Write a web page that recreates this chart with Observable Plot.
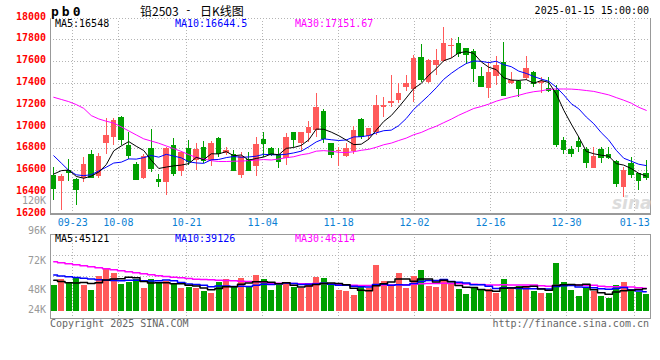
<!DOCTYPE html>
<html><head><meta charset="utf-8">
<script src="https://cdn.jsdelivr.net/npm/d3@7"></script>
<script src="https://cdn.jsdelivr.net/npm/@observablehq/plot@0.6"></script>
<style>
body{margin:0;background:#fff;}
#chart{position:relative;width:660px;height:360px;overflow:hidden;font-family:"DejaVu Sans Mono",monospace;background:#fff;}
#chart svg{position:absolute;left:0;background:transparent;}
.t{position:absolute;white-space:pre;font-size:10px;line-height:10px;font-family:"DejaVu Sans Mono",monospace;}
</style></head><body><div id="chart"></div>
<script>
const dates = ["09-18","09-19","09-20","09-23","09-24","09-25","09-26","09-27","09-30","10-08","10-09","10-10","10-11","10-14","10-15","10-16","10-17","10-18","10-21","10-22","10-23","10-24","10-25","10-28","10-29","10-30","10-31","11-01","11-04","11-05","11-06","11-07","11-08","11-11","11-12","11-13","11-14","11-15","11-18","11-19","11-20","11-21","11-22","11-25","11-26","11-27","11-28","11-29","12-02","12-03","12-04","12-05","12-06","12-09","12-10","12-11","12-12","12-13","12-16","12-17","12-18","12-19","12-20","12-23","12-24","12-25","12-26","12-27","12-30","12-31","01-02","01-03","01-06","01-07","01-08","01-09","01-10","01-13","01-14","01-15"];
const tickDates = ["09-23","10-08","10-21","11-04","11-18","12-02","12-16","12-30","01-13"];
const priceTicks = [16200,16400,16600,16800,17000,17200,17400,17600,17800,18000];

const open = [16552,16500,16604,16515,16522,16745,16546,16843,16899,17082,16828,16659,16522,16797,16515,16491,16828,16592,16803,16690,16813,16690,16895,16760,16745,16552,16705,16635,16883,16806,16751,16712,16944,16843,16935,16966,17144,16849,16770,16727,16776,17064,16911,16951,17180,17217,17242,17364,17340,17640,17410,17564,17603,17738,17769,17717,17692,17462,17349,17462,17594,17401,17416,17441,17502,17395,17355,17334,16874,16791,16865,16791,16614,16791,16751,16681,16439,16660,16574,16568];
const high = [16629,16567,16705,16525,16721,16782,16758,17073,17079,17095,16951,16675,16745,16975,16567,16813,16895,16770,16874,16843,16865,16865,16904,16810,16782,16767,16767,16905,16944,16813,16797,16941,16944,16944,17052,17303,17156,16849,16813,16843,17003,17073,16981,17288,17272,17472,17395,17472,17656,17757,17616,17708,17916,17809,17824,17717,17708,17548,17594,17646,17778,17502,17426,17646,17511,17456,17456,17380,16904,16819,16905,16813,16813,16813,16813,16690,16629,16721,16574,16690];
const low = [16322,16230,16500,16276,16491,16522,16528,16751,16828,16828,16705,16506,16515,16583,16445,16368,16543,16546,16644,16598,16660,16635,16721,16740,16598,16528,16598,16546,16715,16727,16614,16644,16807,16776,16858,16905,16849,16712,16635,16715,16745,16880,16874,16920,17082,17180,17211,17325,17226,17410,17395,17472,17594,17625,17640,17573,17410,17364,17257,17380,17279,17389,17272,17426,17358,17303,17318,16813,16751,16721,16767,16614,16614,16660,16705,16445,16353,16522,16414,16512];
const close = [16436,16543,16583,16423,16653,16537,16730,16920,17058,16880,16736,16515,16727,16614,16500,16797,16574,16761,16681,16788,16690,16843,16758,16785,16598,16727,16604,16837,16849,16745,16684,16899,16880,16944,16997,17180,16889,16751,16780,16797,16966,16911,16981,17196,17196,17236,17303,17401,17625,17432,17610,17610,17763,17747,17671,17662,17533,17370,17502,17564,17288,17426,17355,17539,17395,17416,17334,16834,16788,16758,16819,16675,16727,16721,16715,16476,16604,16567,16506,16537];

const ma5 = [16567,16598,16604,16545,16528,16548,16585,16653,16780,16825,16865,16822,16783,16694,16618,16631,16642,16649,16663,16720,16699,16753,16752,16773,16735,16742,16694,16710,16723,16752,16744,16803,16811,16830,16881,16980,16978,16952,16919,16879,16837,16841,16887,16970,17050,17104,17182,17266,17352,17399,17474,17536,17608,17632,17680,17691,17675,17597,17548,17526,17451,17430,17427,17434,17401,17426,17408,17304,17153,17026,16907,16775,16753,16740,16731,16663,16649,16617,16574,16548];
const ma10 = [16735,16668,16600,16560,16552,16561,16595,16630,16668,16676,16706,16704,16718,16737,16722,16748,16732,16716,16679,16669,16665,16698,16701,16718,16728,16721,16724,16731,16748,16744,16743,16749,16761,16777,16817,16862,16890,16882,16875,16880,16908,16910,16920,16945,16965,16970,17012,17077,17161,17225,17289,17359,17437,17492,17540,17582,17605,17602,17590,17603,17571,17553,17512,17491,17463,17439,17419,17365,17294,17213,17166,17091,17029,16947,16879,16785,16712,16685,16657,16644.5];
const ma30 = [17272,17252,17232,17205,17170,17104,17073,17052,17035,17000,16963,16926,16890,16870,16850,16825,16800,16775,16745,16720,16705,16690,16682,16682,16685,16686,16690,16695,16700,16696,16705,16717,16726,16744,16755,16777,16782,16776,16767,16764,16772,16785,16794,16813,16836,16851,16875,16897,16928,16949,16980,17006,17039,17071,17107,17138,17169,17187,17209,17236,17256,17274,17290,17309,17323,17331,17345,17348,17348,17347,17342,17334,17326,17310,17294,17269,17245,17218,17180,17151.67];

const volume = [51400,63400,54700,66700,51400,41400,69400,83400,76000,53400,58000,62700,46000,62700,54700,59400,52700,46000,46700,46000,40000,36000,58000,63400,46700,66000,46700,71400,63400,41400,51400,56700,46700,44700,52700,66700,66000,51400,41400,39400,31400,46700,44700,91400,59400,49400,76000,46000,69400,81400,49400,46700,62700,54700,43400,32700,44700,42700,42700,36000,63400,46700,49400,49400,39400,36000,36000,96000,58000,41400,30000,44700,39400,30000,26000,51400,58000,43400,38000,33400];
const vma5 = [62000,59500,57000,56500,57520,55520,56720,62460,64320,64720,68040,66700,59220,56560,56820,57100,55100,55100,51900,50160,46280,42940,45340,48680,48820,54020,56160,58840,58840,57780,54860,56860,51920,48180,50440,53500,55360,56300,55640,52980,45920,42060,40720,50720,54720,58320,64180,64440,60040,64440,64440,58580,61920,58980,51380,48040,47640,43640,41240,39760,45900,46300,47640,48980,49660,44180,42040,51360,53080,53480,52280,54020,42700,37100,34020,38300,40960,41760,43360,45121];
const vma10 = [72500,70500,69000,67500,66000,64500,63000,62000,61500,61120,61780,61710,60840,60440,60770,62570,60900,57160,54230,53490,51690,49020,50220,50290,49490,50150,49550,52090,53760,53300,54440,56510,55380,53510,54110,54180,56110,54110,51910,51710,49710,48710,48510,53180,53850,52120,53120,52580,55380,59580,61380,61380,63180,59510,57910,56240,53110,52780,50110,45570,46970,46970,45640,45110,44710,45040,44170,49500,51030,51570,48230,48030,47030,45090,43750,45290,47490,42230,40230,39126];
const vma30 = [98800,96800,94700,92700,90700,88700,86700,84700,82700,80700,78700,76700,74700,72700,70700,69400,68000,66700,65400,64000,63400,62700,62000,61400,60700,60000,59400,58700,58000,55973,55973,55750,55483,54750,54793,55637,55523,54457,53303,52837,51950,51417,51373,52330,52487,52153,52930,52930,53687,54867,55180,55537,55693,55403,55293,54183,54117,53160,52470,52290,52690,52357,52447,52603,52160,51137,50137,51623,52177,52243,52197,52130,51953,49907,48793,48860,48260,48173,47127,46114];
const volLabels = ["120K","96K","72K","48K","24K"];

const RED = "#ff5a5a", GREEN = "#00a000", GRID = "#b4b4b4", BORDER = "#999";
const MONO = "DejaVu Sans Mono";

const candles = dates.map((d, i) => ({date: d, open: open[i], high: high[i], low: low[i], close: close[i], vol: volume[i], color: close[i] >= open[i] ? RED : GREEN}));
const series = (arr) => dates.map((d, i) => ({date: d, v: arr[i]}));

const CH = document.getElementById("chart");
function put(svg, top) { svg.style.top = top + "px"; CH.appendChild(svg); }
function txt(s, x, yc, opt = {}) {
  const e = document.createElement("div");
  e.className = "t";
  e.textContent = s;
  Object.assign(e.style, opt);
  if (opt.right) { e.style.right = (660 - x) + "px"; } else { e.style.left = x + "px"; }
  e.style.top = (yc - 5) + "px";
  CH.appendChild(e);
  return e;
}

// ---------- price panel: grid & frame (point scale for date gridlines) ----------
const PW = 660, PH = 230;
const pm = {marginLeft: 49.5, marginRight: 10.5, marginTop: 17.5, marginBottom: 16.5};
put(Plot.plot({
  width: PW, height: PH, ...pm,
  x: {type: "point", domain: dates, padding: 0, axis: null},
  y: {domain: [16200, 18000], axis: null},
  style: {background: "transparent", fontFamily: MONO},
  marks: [
    Plot.ruleY(priceTicks.slice(1), {stroke: GRID, strokeDasharray: "1,2", shapeRendering: "crispEdges"}),
    Plot.ruleX(tickDates, {stroke: GRID, strokeDasharray: "1,2", shapeRendering: "crispEdges"}),
    Plot.frame({stroke: BORDER, shapeRendering: "crispEdges"}),
    Plot.ruleY([18000], {stroke: "#fff", shapeRendering: "crispEdges"}),
    Plot.ruleY([18000], {stroke: GRID, strokeDasharray: "1,2", shapeRendering: "crispEdges"}),
    Plot.ruleY([16200], {stroke: BORDER, strokeWidth: 2, shapeRendering: "crispEdges"}),
    Plot.axisX({ticks: tickDates, tickSize: 0, tickPadding: 5, fill: "#0b7fd4", fontSize: 10, fontFamily: MONO, label: null})
  ]
}), 0);

// ---------- price panel: candles & MAs ----------
put(Plot.plot({
  width: PW, height: PH, ...pm,
  x: {type: "band", domain: dates, padding: 0, axis: null},
  y: {domain: [16200, 18000], label: null},
  color: {type: "identity"},
  style: {background: "transparent", fontFamily: MONO},
  marks: [
    Plot.axisY({ticks: priceTicks, tickSize: 0, tickPadding: 4, fill: "#f00", fontSize: 10, fontWeight: "bold", fontFamily: MONO, dy: -1.5, label: null, tickFormat: d => String(d)}),
    Plot.ruleX(candles, {x: "date", y1: "low", y2: "high", stroke: "color", shapeRendering: "crispEdges"}),
    Plot.barY(candles, {x: "date", y1: "open", y2: "close", fill: "color", insetLeft: 1, insetRight: 1, shapeRendering: "crispEdges"}),
    Plot.tickY(candles, {x: "date", y: "close", stroke: "color", inset: 1, shapeRendering: "crispEdges"}),
    Plot.lineY(series(ma30), {x: "date", y: "v", stroke: "#f0f", strokeWidth: 1}),
    Plot.lineY(series(ma10), {x: "date", y: "v", stroke: "#00f", strokeWidth: 1}),
    Plot.lineY(series(ma5), {x: "date", y: "v", stroke: "#000", strokeWidth: 1})
  ]
}), 0);

// ---------- volume panel ----------
const VT = 226, VH = 96;
const vm = {marginLeft: 49.5, marginRight: 10.5, marginTop: 7.5, marginBottom: 4.5};
put(Plot.plot({
  width: PW, height: VH, ...vm,
  x: {type: "point", domain: dates, padding: 0, axis: null},
  y: {domain: [0, 4], axis: null},
  style: {background: "transparent"},
  marks: [
    Plot.ruleY([1, 2, 3], {stroke: GRID, strokeDasharray: "1,2", shapeRendering: "crispEdges"}),
    Plot.ruleX(tickDates, {stroke: GRID, strokeDasharray: "1,2", shapeRendering: "crispEdges"}),
    Plot.frame({stroke: BORDER, shapeRendering: "crispEdges"})
  ]
}), VT);

put(Plot.plot({
  width: PW, height: VH, ...vm,
  x: {type: "band", domain: dates, padding: 0, axis: null},
  y: {domain: [-13600, 154400], axis: null},
  color: {type: "identity"},
  style: {background: "transparent"},
  marks: [
    Plot.barY(candles, {x: "date", y: "vol", fill: "color", insetLeft: 1, insetRight: 0.5, shapeRendering: "crispEdges"}),
    Plot.lineY(series(vma30), {x: "date", y: "v", stroke: "#f0f", curve: "step"}),
    Plot.lineY(series(vma10), {x: "date", y: "v", stroke: "#00f", curve: "step"}),
    Plot.lineY(series(vma5), {x: "date", y: "v", stroke: "#000", curve: "step"})
  ]
}), VT);

// ---------- texts ----------
const last = a => a[a.length - 1];
txt("pb0", 51, 9.5, {fontSize: "13px", lineHeight: "13px", fontWeight: "bold", letterSpacing: "3px", top: "3px"});
txt("铅2503", 140, 10, {fontFamily: "Noto Sans CJK SC", fontSize: "12px", lineHeight: "12px"});
txt("-", 185, 10, {fontSize: "11px"});
txt("日K线图", 200, 10, {fontFamily: "Noto Sans CJK SC", fontSize: "12px", lineHeight: "12px"});
txt("2025-01-15 15:00:00", 649, 11, {right: true});
txt("MA5:" + last(ma5), 55, 23.5, {color: "#000"});
txt("MA10:" + last(ma10), 175, 23.5, {color: "#00f"});
txt("MA30:" + last(ma30), 295, 23.5, {color: "#f0f"});
txt("MA5:" + last(vma5), 55, 238.5, {color: "#000"});
txt("MA10:" + last(vma10), 175, 238.5, {color: "#00f"});
txt("MA30:" + last(vma30), 295, 238.5, {color: "#f0f"});
const volLabelY = [201, 231, 260.5, 290, 310];
volLabels.forEach((s, k) => txt(s, 46, volLabelY[k], {right: true, color: "#999"}));
txt("Copyright 2025 SINA.COM", 50, 324, {color: "#666"});
txt("http://finance.sina.com.cn", 649, 324, {right: true, color: "#666"});
txt("sina", 612, 200, {fontFamily: "DejaVu Sans", fontSize: "17px", lineHeight: "17px", fontStyle: "italic", fontWeight: "bold", color: "#dcdcdc", top: "191px"});
</script></body></html>
